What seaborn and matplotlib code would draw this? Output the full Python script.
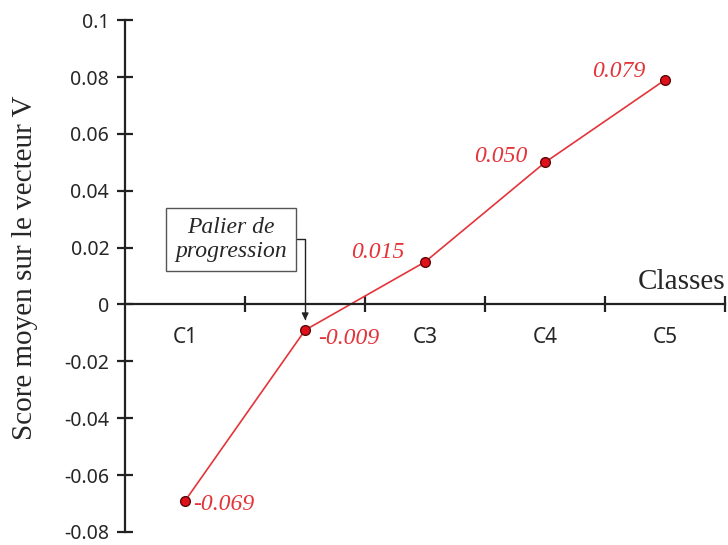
import numpy as np
import pandas as pd
import seaborn as sns
import matplotlib.pyplot as plt
from matplotlib.ticker import FuncFormatter

# data
classes = ['C1', 'C2', 'C3', 'C4', 'C5']
class_labels = ['C1', '', 'C3', 'C4', 'C5']   # C2 label is not shown in the original
scores = [-0.069, -0.009, 0.015, 0.050, 0.079]
score_texts = ['-0.069', '-0.009', '0.015', '0.050', '0.079']
y_ticks = [-0.08, -0.06, -0.04, -0.02, 0, 0.02, 0.04, 0.06, 0.08, 0.1]

df = pd.DataFrame({'pos': np.arange(len(classes)), 'score': scores, 'classe': classes})

sns.set_style('white')
plt.rcParams['font.family'] = ['Noto Sans', 'DejaVu Sans']

RED = '#e3343a'
serif = ['Liberation Serif', 'DejaVu Serif']

fig = plt.figure(figsize=(7.28, 5.45), dpi=100)
ax = fig.add_axes([0.172, 0.024, 0.824, 0.939])

sns.lineplot(data=df, x='pos', y='score', ax=ax, color=RED, linewidth=1.2,
             marker='o', markersize=7, markerfacecolor='#e0101a',
             markeredgecolor='#5a0a0a', markeredgewidth=1.0)

ax.set_xlim(-0.5, 4.5)
ax.set_ylim(-0.08, 0.1)

# axes look: y axis on the left, x axis crossing at zero
for s in ['top', 'right']:
    ax.spines[s].set_visible(False)
ax.spines['bottom'].set_position(('data', 0))
for s in ['left', 'bottom']:
    ax.spines[s].set_color('#222222')
    ax.spines[s].set_linewidth(1.6)

ax.set_yticks(y_ticks)
ax.yaxis.set_major_formatter(FuncFormatter(lambda v, p: '%g' % round(v, 3)))
ax.tick_params(axis='y', direction='inout', length=11, width=1.6, color='#222222',
               labelsize=14, pad=6, left=True)

# category labels at the centres, crossing ticks at the class boundaries
ax.set_xticks(df['pos'])
ax.set_xticklabels(class_labels)
ax.set_xticks(np.arange(0.5, 5, 1), minor=True)
ax.tick_params(axis='x', which='major', length=0, labelsize=15, pad=16, bottom=True)
ax.tick_params(axis='x', which='minor', direction='inout', length=11, width=1.6,
               color='#222222', bottom=True)

ax.set_xlabel('')
ax.set_ylabel('Score moyen sur le vecteur V', family=serif, fontsize=21)
ax.yaxis.set_label_coords(-0.146, 0.516)
ax.text(4.5, 0.0035, 'Classes', family=serif, fontsize=21, ha='right', va='bottom')

# value labels
offsets = [(6, -3, 'left'), (9, -6, 'left'), (-15, 7, 'right'), (-13, 4, 'right'), (-14, 6, 'right')]
for x, y, t, (dx, dy, ha) in zip(df['pos'], scores, score_texts, offsets):
    ax.annotate(t, (x, y), xytext=(dx, dy), textcoords='offset points',
                ha=ha, va='center', color=RED, family=serif, style='italic', fontsize=17)

# "Palier de progression" callout
ax.text(0.383, 0.0228, 'Palier de\nprogression', family=serif, style='italic', fontsize=17,
        ha='center', va='center', linespacing=1.15,
        bbox=dict(boxstyle='square,pad=0.38', fc='white', ec='#555555', lw=1))
ax.annotate('', xy=(1, -0.0055), xytext=(0.935, 0.023),
            arrowprops=dict(arrowstyle='-|>', color='#222222', lw=1,
                            shrinkA=0, shrinkB=0,
                            connectionstyle='angle,angleA=0,angleB=90,rad=0'))

fig.savefig('out.png', dpi=100)
